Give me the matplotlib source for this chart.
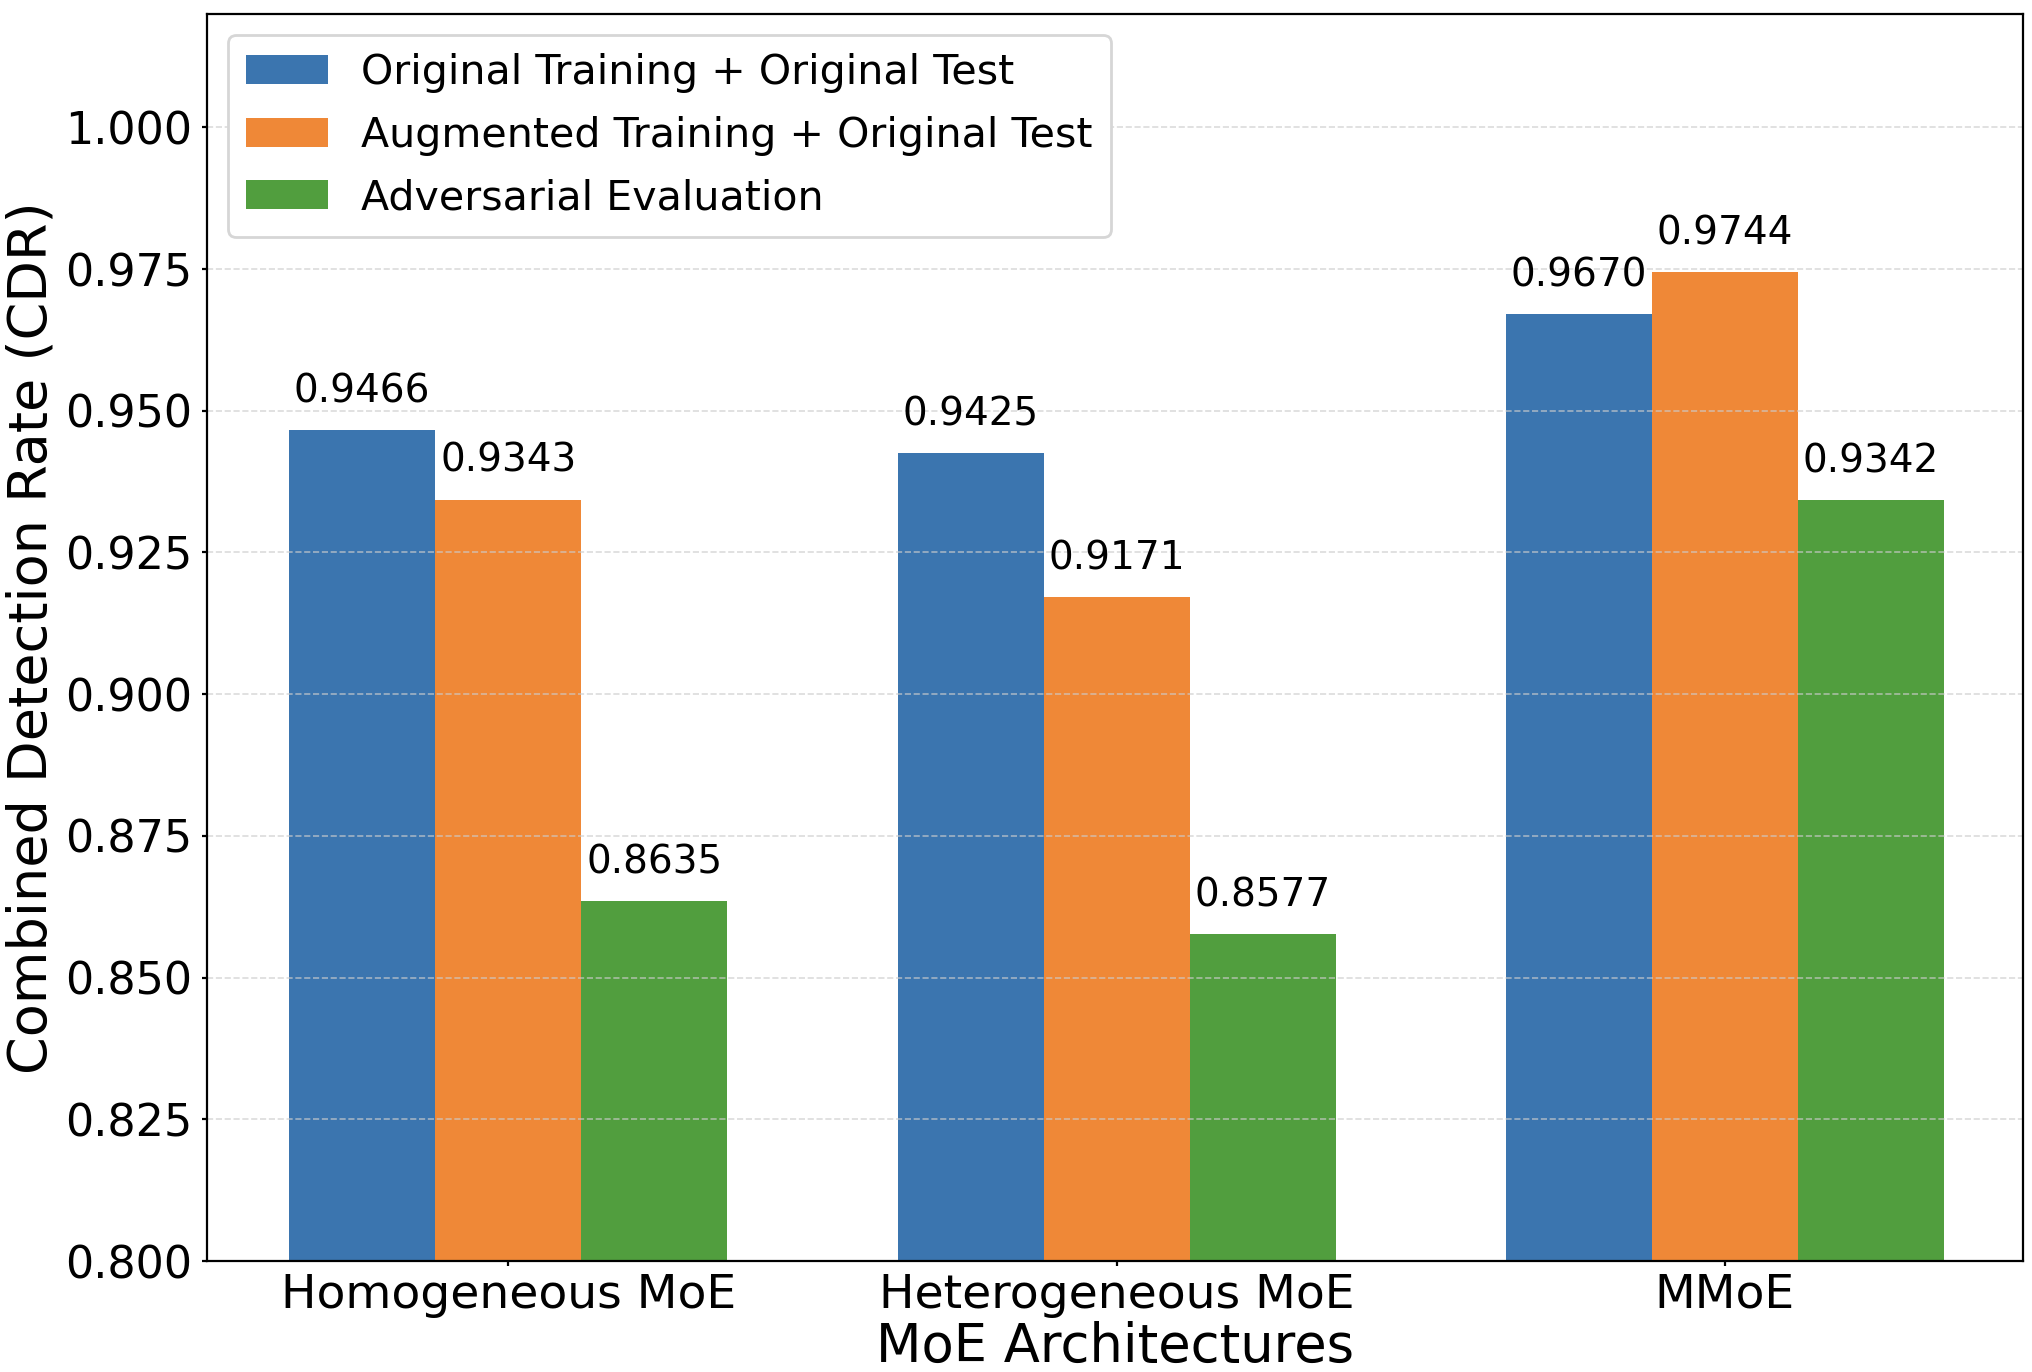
#!/usr/bin/env python3
"""Grouped bar chart of CDR for three MoE architectures."""

import matplotlib
matplotlib.use("Agg")
import matplotlib.pyplot as plt
import numpy as np

architectures = ["Homogeneous MoE", "Heterogeneous MoE", "MMoE"]
series_names = [
    "Original Training + Original Test",
    "Augmented Training + Original Test",
    "Adversarial Evaluation",
]
original = [0.9466, 0.9425, 0.9670]
augmented = [0.9343, 0.9171, 0.9744]
adversarial = [0.8635, 0.8577, 0.9342]

COLORS = ["#3b75af", "#ef8837", "#519e3e"]


def main() -> None:
    plt.rcParams.update({"font.family": "DejaVu Sans"})

    fig = plt.figure(figsize=(10.16, 6.86), dpi=200)
    ax = fig.add_axes([0.1019, 0.0809, 0.8937, 0.9089])

    x = np.arange(len(architectures))
    width = 0.24
    all_series = [original, augmented, adversarial]
    for i, (vals, name, color) in enumerate(zip(all_series, series_names, COLORS)):
        pos = x + (i - 1) * width
        ax.bar(pos, vals, width, label=name, color=color)
        for px, v in zip(pos, vals):
            ax.text(px, v + 0.0035, f"{v:.4f}", ha="center", va="bottom", fontsize=14)

    ticks = np.arange(0.8, 1.0001, 0.025)
    ax.set_ylim(0.8, 1.02)
    ax.set_xlim(-0.495, 2.49)
    ax.set_yticks(ticks)
    ax.set_yticklabels([f"{t:.3f}" for t in ticks])
    ax.set_xticks(x)
    ax.set_xticklabels(architectures)
    ax.tick_params(axis="y", labelsize=16, length=1.8, pad=3.6)
    ax.tick_params(axis="x", labelsize=17, length=1.8, pad=2.5)

    ax.set_xlabel("MoE Architectures", fontsize=19, labelpad=1)
    ax.set_ylabel("Combined Detection Rate (CDR)", fontsize=19.5, labelpad=2.5)

    ax.grid(axis="y", linestyle="--", color="#cccccc", alpha=0.7, linewidth=0.6)

    ax.legend(loc="upper left", fontsize=14.8, framealpha=1.0, edgecolor="#d6d6d6",
              handlelength=2.0, borderpad=0.45, labelspacing=0.55)

    fig.savefig("out.png", dpi=200, facecolor="white")
    plt.close(fig)


if __name__ == "__main__":
    main()
